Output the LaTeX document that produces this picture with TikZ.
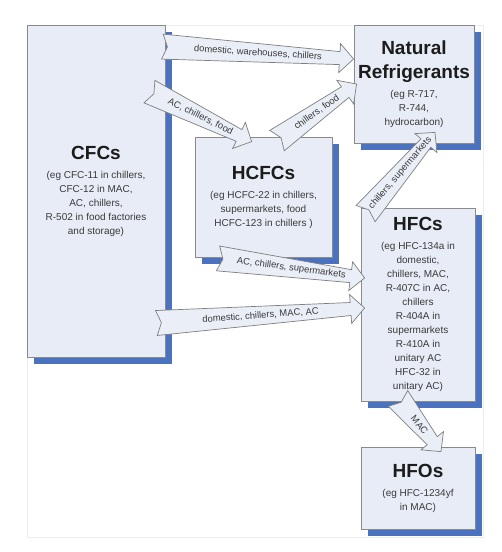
\documentclass[tikz,border=0pt]{standalone}
\usepackage{fontspec}
\setmainfont{Liberation Sans}
\usetikzlibrary{calc,shadows}
\definecolor{boxfill}   {HTML}{E7ECF6}
\definecolor{boxline}   {HTML}{8A8A8A}
\definecolor{shadowblue}{HTML}{4A72BF}
\definecolor{arrfill}   {HTML}{E9EEF7}
\definecolor{arrline}   {HTML}{7F7F7F}
\definecolor{bodyink}   {HTML}{3A3A3A}
\definecolor{titleink}  {HTML}{1C1C1C}
\definecolor{framegray} {HTML}{EDEDED}
\tikzset{
  refbox/.style  ={draw=boxline, fill=boxfill, line width=0.8pt,
                   inner sep=0pt, align=center, text=bodyink,
                   font=\fontsize{10}{14}\selectfont,
                   drop shadow={shadow xshift=7pt, shadow yshift=-7pt,
                                fill=shadowblue, opacity=1}},
  flowarr/.style ={draw=arrline, fill=arrfill, line width=0.7pt, line join=miter},
  arrlabel/.style={font=\fontsize{9.4}{10}\selectfont, text=bodyink, inner sep=0pt},
}
\newcommand\boxtitle[1]{{\fontsize{19}{24}\selectfont\bfseries\color{titleink}#1}}
% block arrow with notched tail: tail, tip, label
\newcommand\flowarrow[3]{%
  \coordinate (hb) at ($(#2)!14pt!(#1)$);
  \draw[flowarr] ($(#1)!12.5pt!90:(#2)$) -- ($(hb)!6.5pt!90:(#2)$)
    -- ($(hb)!14.5pt!90:(#2)$) -- (#2) -- ($(hb)!14.5pt!-90:(#2)$)
    -- ($(hb)!6.5pt!-90:(#2)$) -- ($(#1)!12.5pt!-90:(#2)$)
    -- ($(#1)!5pt!(#2)$) -- cycle;
  \path (#1) -- (#2) node[midway, sloped, arrlabel] {#3};
}

\begin{document}
\begin{tikzpicture}[x=1pt, y=-1pt]
    \useasboundingbox (0,0) rectangle (502,552);
    \draw[framegray, line width=0.6pt] (27,25) rectangle (483,537);

    % boxes
    \node[refbox, minimum width=138pt, minimum height=332pt] (cfc) at (96,191)
      {\boxtitle{CFCs}\\[5pt](eg CFC-11 in chillers,\\CFC-12 in MAC,\\AC, chillers,\\R-502 in food factories\\and storage)};
    \node[refbox, minimum width=120pt, minimum height=118pt] (nat) at (414,84)
      {\boxtitle{Natural}\\[10pt]\boxtitle{Refrigerants}\\[5pt](eg R-717,\\R-744,\\hydrocarbon)};
    \node[refbox, minimum width=137pt, minimum height=120pt] (hcfc) at (263.5,197)
      {\boxtitle{HCFCs}\\[5pt](eg HCFC-22 in chillers,\\supermarkets, food\\HCFC-123 in chillers )};
    \node[refbox, minimum width=114pt, minimum height=193pt] (hfc) at (418,304.5)
      {\boxtitle{HFCs}\\[5pt](eg HFC-134a in\\domestic,\\chillers, MAC,\\R-407C in AC,\\chillers\\R-404A in\\supermarkets\\R-410A in\\unitary AC\\HFC-32 in\\unitary AC)};
    \node[refbox, minimum width=114pt, minimum height=82pt] (hfo) at (418,488)
      {\boxtitle{HFOs}\\[5pt](eg HFC-1234yf\\in MAC)};

    % arrow ends
    \coordinate (cfc2nat-a)  at ($(cfc.north east)+(-3,22)$);
    \coordinate (cfc2nat-b)  at ($(nat.west)+(0,-25)$);
    \coordinate (cfc2hcfc-a) at ($(cfc.north east)+(-16,67)$);
    \coordinate (cfc2hcfc-b) at ($(hcfc.north west)+(57,5)$);
    \coordinate (hcfc2nat-a) at ($(hcfc.north)+(13.5,4)$);
    \coordinate (hcfc2nat-b) at ($(nat.west)+(3,0)$);
    \coordinate (hfc2nat-a)  at ($(hfc.north west)+(5,6)$);
    \coordinate (hfc2nat-b)  at ($(nat.south)+(21,-11)$);
    \coordinate (hcfc2hfc-a) at ($(hcfc.south)+(-45.5,1)$);
    \coordinate (hcfc2hfc-b) at ($(hfc.west)+(4,-26.5)$);
    \coordinate (cfc2hfc-a)  at ($(cfc.east)+(-9,132)$);
    \coordinate (cfc2hfc-b)  at ($(hfc.west)+(4,3.5)$);
    \coordinate (hfc2hfo-a)  at ($(hfc.south)+(-20,-3)$);
    \coordinate (hfc2hfo-b)  at ($(hfo.north)+(23,5)$);

    % arrows
    \flowarrow{cfc2nat-a}{cfc2nat-b}{domestic, warehouses, chillers}
    \flowarrow{cfc2hcfc-a}{cfc2hcfc-b}{AC, chillers, food}
    \flowarrow{hcfc2nat-a}{hcfc2nat-b}{chillers, food}
    \flowarrow{hfc2nat-a}{hfc2nat-b}{chillers, supermarkets}
    \flowarrow{hcfc2hfc-a}{hcfc2hfc-b}{AC, chillers, supermarkets}
    \flowarrow{cfc2hfc-a}{cfc2hfc-b}{domestic, chillers, MAC, AC}
    \flowarrow{hfc2hfo-a}{hfc2hfo-b}{MAC}
\end{tikzpicture}
\end{document}
